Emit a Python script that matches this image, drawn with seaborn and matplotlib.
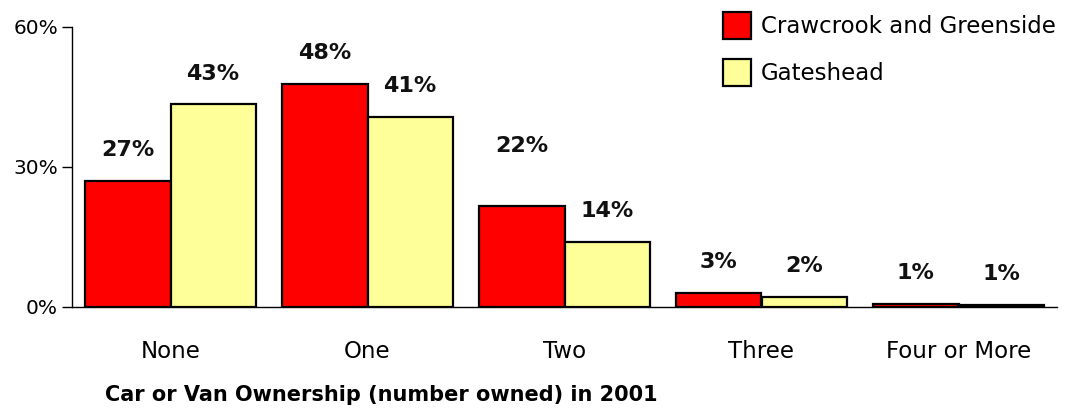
import matplotlib
matplotlib.use("Agg")
import matplotlib.pyplot as plt
import seaborn as sns
import pandas as pd
from matplotlib.ticker import FixedLocator, FuncFormatter

categories = ["None", "One", "Two", "Three", "Four or More"]
series_names = ["Crawcrook and Greenside", "Gateshead"]
crawcrook = [27.0, 47.8, 21.7, 3.0, 0.6]
gateshead = [43.4, 40.8, 13.9, 2.1, 0.5]
crawcrook_labels = ["27%", "48%", "22%", "3%", "1%"]
gateshead_labels = ["43%", "41%", "14%", "2%", "1%"]
yticks = [0, 30, 60]
colors = ["#FF0000", "#FFFF99"]

sns.set_style("white")
plt.rcParams["font.family"] = ["DejaVu Sans"]
plt.rcParams["text.color"] = "black"
plt.rcParams["axes.labelcolor"] = "black"
plt.rcParams["xtick.color"] = "black"
plt.rcParams["ytick.color"] = "black"

df = pd.DataFrame({
    "cat": categories * 2,
    "series": [series_names[0]] * len(categories) + [series_names[1]] * len(categories),
    "value": crawcrook + gateshead,
})

fig = plt.figure(figsize=(10.75, 4.12), dpi=100)
ax = fig.add_axes([72 / 1075, 1 - 307 / 412, (1057 - 72) / 1075, 280 / 412])

sns.barplot(data=df, x="cat", y="value", hue="series", order=categories,
            hue_order=series_names, palette=colors, width=0.865, gap=0,
            edgecolor="black", linewidth=1.6, ax=ax, legend=True, saturation=1)

ax.set_xlim(-0.5, 4.5)
ax.set_ylim(0, 60)
ax.yaxis.set_major_locator(FixedLocator(yticks))
ax.yaxis.set_major_formatter(FuncFormatter(lambda v, p: f"{int(v)}%"))
ax.tick_params(axis="y", length=7, width=1, color="black", labelcolor="black",
               labelsize=14.5, pad=3, left=True)
ax.tick_params(axis="x", length=0, labelsize=16.5, labelcolor="black", pad=23.5)
for s in ["top", "right"]:
    ax.spines[s].set_visible(False)
for s in ["left", "bottom"]:
    ax.spines[s].set_color("black")
    ax.spines[s].set_linewidth(1)
ax.set_ylabel("")
ax.set_xlabel("Car or Van Ownership (number owned) in 2001", fontsize=15,
              fontweight="bold", color="black")
ax.xaxis.set_label_coords(33 / 985, -0.28)
ax.xaxis.label.set_horizontalalignment("left")

extra = {0: [0, 0, 28, 0, 0], 1: [0, 0, 0, 0, 0]}
for i, (cont, labs) in enumerate(zip(ax.containers, [crawcrook_labels, gateshead_labels])):
    for j, (bar, lab) in enumerate(zip(cont, labs)):
        x = bar.get_x() + bar.get_width() / 2
        h = bar.get_height()
        ax.annotate(lab, (x, h), xytext=(0, 15 + extra[i][j] * 0.75), textcoords="offset points",
                    ha="center", va="bottom", fontsize=16, fontweight="bold", color="#111111")

leg = ax.legend(loc="upper left", bbox_to_anchor=(723 / 1075, 1 - 12 / 412),
                bbox_transform=fig.transFigure, frameon=False, fontsize=16.5,
                handlelength=1.2, handleheight=1.45, handletextpad=0.45,
                labelspacing=0.85, borderaxespad=0, borderpad=0)
for t in leg.get_texts():
    t.set_color("black")

fig.savefig("out.png", dpi=100)
